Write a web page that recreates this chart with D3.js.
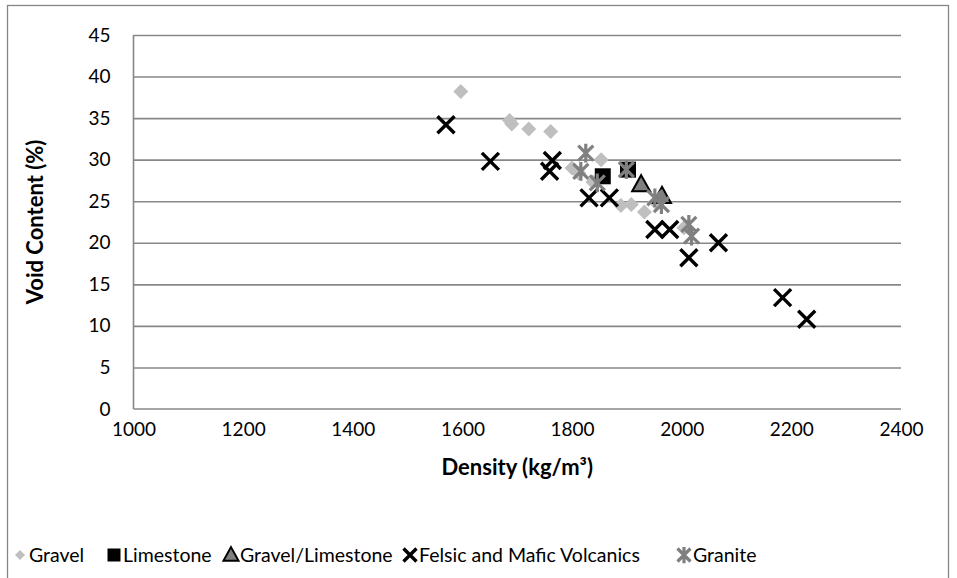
<!DOCTYPE html>
<html>
<head>
<meta charset="utf-8">
<script src="https://cdn.jsdelivr.net/npm/d3@7"></script>
<style>
  body { margin: 0; background: #fff; }
  svg text { font-family: Lato, "Open Sans", sans-serif; fill: #000; }
  .grid line { stroke: #878787; stroke-width: 1.6; }
  .grid path { display: none; }
</style>
</head>
<body>
<svg id="chart" width="957" height="578"></svg>
<script>
// density (kg/m3) / void content (%) per material
const gravelX = [1597, 1686, 1690, 1721, 1761, 1800, 1812, 1853, 1838, 1889, 1908, 1932, 1952, 2004];
const gravelY = [38.2, 34.7, 34.3, 33.7, 33.4, 29.0, 28.4, 30.0, 27.3, 24.5, 24.6, 23.7, 24.9, 21.8];
const limestoneX = [1856, 1902];
const limestoneY = [28.0, 28.8];
const gravelLimeX = [1926, 1964];
const gravelLimeY = [27.0, 25.6];
const volcX = [1570, 1651, 1764, 1759, 1831, 1868, 1951, 1978, 2013, 2067, 2184, 2228];
const volcY = [34.2, 29.8, 29.9, 28.6, 25.4, 25.4, 21.6, 21.6, 18.2, 20.0, 13.4, 10.8];
const graniteX = [1825, 1816, 1846, 1899, 1951, 1963, 2013, 2018];
const graniteY = [30.8, 28.6, 27.2, 28.8, 25.4, 24.6, 22.2, 20.8];

const xTicks = [1000, 1200, 1400, 1600, 1800, 2000, 2200, 2400];
const yTicks = [0, 5, 10, 15, 20, 25, 30, 35, 40, 45];

const series = [
  { name: "Gravel", xs: gravelX, ys: gravelY, shape: "diamond" },
  { name: "Limestone", xs: limestoneX, ys: limestoneY, shape: "square" },
  { name: "Gravel/Limestone", xs: gravelLimeX, ys: gravelLimeY, shape: "triangle" },
  { name: "Felsic and Mafic Volcanics", xs: volcX, ys: volcY, shape: "cross" },
  { name: "Granite", xs: graniteX, ys: graniteY, shape: "star" }
];

const svg = d3.select("#chart");
const margin = { left: 133.5, right: 56, top: 35, bottom: 169 };
const width = +svg.attr("width");
const height = +svg.attr("height");
const innerWidth = width - margin.left - margin.right;
const innerHeight = height - margin.top - margin.bottom;

// outer chart border
svg.append("rect")
  .attr("x", 7.5).attr("y", 5.5)
  .attr("width", 941).attr("height", 600)
  .attr("fill", "none").attr("stroke", "#868686").attr("stroke-width", 1.3);

const xScale = d3.scaleLinear().domain([1000, 2400]).range([0, innerWidth]);
const yScale = d3.scaleLinear().domain([0, 45]).range([innerHeight, 0]);

const g = svg.append("g").attr("transform", `translate(${margin.left},${margin.top})`);

// horizontal gridlines
g.append("g")
  .attr("class", "grid")
  .call(d3.axisLeft(yScale).tickValues(yTicks.filter(d => d > 0)).tickSize(-innerWidth).tickFormat(""));

// axes lines
g.append("line").attr("x1", 0).attr("x2", 0).attr("y1", 0).attr("y2", innerHeight)
  .attr("stroke", "#878787").attr("stroke-width", 1.6);
g.append("line").attr("x1", 0).attr("x2", innerWidth).attr("y1", innerHeight).attr("y2", innerHeight)
  .attr("stroke", "#878787").attr("stroke-width", 1.6);

const xAxis = g.append("g")
  .attr("transform", `translate(0,${innerHeight})`)
  .call(d3.axisBottom(xScale).tickValues(xTicks).tickSize(0).tickPadding(14).tickFormat(d3.format("d")));
xAxis.select(".domain").remove();
xAxis.selectAll("text").style("font-size", "19px");

const yAxis = g.append("g")
  .call(d3.axisLeft(yScale).tickValues(yTicks).tickSize(0).tickPadding(23).tickFormat(d3.format("d")));
yAxis.select(".domain").remove();
yAxis.selectAll("text").style("font-size", "19px");

// axis titles
svg.append("text")
  .attr("x", margin.left + innerWidth / 2).attr("y", 475)
  .attr("text-anchor", "middle")
  .style("font-size", "22px").style("font-weight", "bold")
  .text("Density (kg/m³)");

svg.append("text")
  .attr("transform", `translate(43,${margin.top + innerHeight / 2}) rotate(-90)`)
  .attr("text-anchor", "middle")
  .style("font-size", "22px").style("font-weight", "bold")
  .text("Void Content (%)");

// marker drawing
function drawMarker(sel, shape, s) {
  if (shape === "diamond") {
    sel.append("path")
      .attr("d", `M0,${-s}L${s},0L0,${s}L${-s},0Z`)
      .attr("fill", "#bfbfbf");
  } else if (shape === "square") {
    sel.append("rect")
      .attr("x", -s).attr("y", -s).attr("width", 2 * s).attr("height", 2 * s)
      .attr("fill", "#000");
  } else if (shape === "triangle") {
    sel.append("path")
      .attr("d", `M0,${-s * 1.05}L${s},${s * 0.75}L${-s},${s * 0.75}Z`)
      .attr("fill", "#7f7f7f").attr("stroke", "#000").attr("stroke-width", 2);
  } else if (shape === "cross") {
    sel.append("path")
      .attr("d", `M${-s},${-s}L${s},${s}M${-s},${s}L${s},${-s}`)
      .attr("stroke", "#000").attr("stroke-width", 3.4).attr("fill", "none");
  } else if (shape === "star") {
    sel.append("path")
      .attr("d", `M${-s},${-s}L${s},${s}M${-s},${s}L${s},${-s}M0,${-s * 1.25}L0,${s * 1.25}`)
      .attr("stroke", "#808080").attr("stroke-width", 3.2).attr("fill", "none");
  }
}

const markerSize = { diamond: 7.5, square: 8, triangle: 9, cross: 8.5, star: 7.5 };

series.forEach(s => {
  const pts = s.xs.map((x, i) => ({ x, y: s.ys[i] }));
  g.append("g").selectAll("g")
    .data(pts)
    .join("g")
    .attr("transform", d => `translate(${xScale(d.x)},${yScale(d.y)})`)
    .each(function () { drawMarker(d3.select(this), s.shape, markerSize[s.shape]); });
});

// legend
const legendX = [20, 114, 231, 410, 684];
const legend = svg.append("g").attr("transform", "translate(0,555)");
series.forEach((s, i) => {
  const item = legend.append("g").attr("transform", `translate(${legendX[i]},0)`);
  const ls = { diamond: 5, square: 6.5, triangle: 7.5, cross: 6.5, star: 6.5 }[s.shape];
  drawMarker(item, s.shape, ls);
  item.append("text")
    .attr("x", 9).attr("dy", "0.36em")
    .style("font-size", "19.5px")
    .text(s.name);
});
</script>
</body>
</html>
